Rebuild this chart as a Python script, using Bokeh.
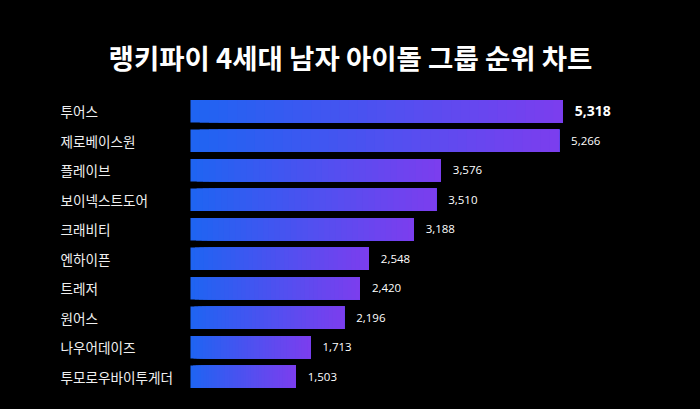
from bokeh.plotting import figure
from bokeh.models import ColumnDataSource, Range1d, FactorRange
from bokeh.core.properties import value
from bokeh.embed import file_html
from bokeh.resources import INLINE

title = "랭키파이 4세대 남자 아이돌 그룹 순위 차트"
groups = ["투어스", "제로베이스원", "플레이브", "보이넥스트도어", "크래비티",
          "엔하이픈", "트레저", "원어스", "나우어데이즈", "투모로우바이투게더"]
scores = [5318, 5266, 3576, 3510, 3188, 2548, 2420, 2196, 1713, 1503]

c0 = (0x1e, 0x64, 0xf2)
c1 = (0x7c, 0x3e, 0xee)
N = 40

p = figure(width=700, height=409, output_backend="svg", toolbar_location=None,
           x_range=Range1d(-2714, 7286), y_range=FactorRange(*reversed(groups), range_padding=0),
           min_border_left=0, min_border_right=0, min_border_top=96, min_border_bottom=18)
p.background_fill_color = "black"
p.border_fill_color = "black"
p.outline_line_color = None
p.xaxis.visible = False
p.yaxis.visible = False
p.xgrid.visible = False
p.ygrid.visible = False

# gradient bars: overlapping slices, each from its start to the bar end
ys, lefts, rights, cols = [], [], [], []
for g, v in zip(groups, scores):
    for i in range(N):
        t = (i + 0.5) / N
        col = "#%02x%02x%02x" % tuple(int(round(a + (b - a) * t)) for a, b in zip(c0, c1))
        ys.append(g)
        lefts.append(v * i / N)
        rights.append(v)
        cols.append(col)
bars = ColumnDataSource(dict(y=ys, left=lefts, right=rights, color=cols))
p.hbar(y="y", left="left", right="right", height=0.76, source=bars,
       fill_color="color", line_color=None)

src = ColumnDataSource(dict(
    y=groups, x=[0] * len(groups), v=scores,
    vt=[f"{s:,}" for s in scores],
    fs=["14px" if i == 0 else "11.5px" for i in range(len(groups))],
    st=["bold" if i == 0 else "normal" for i in range(len(groups))],
))
p.text(x="x", y="y", text="y", source=src, x_offset=-130, text_align="left",
       text_baseline="middle", text_color="#f0f0f0", text_font_size="13.6px",
       text_font=value("Noto Sans CJK KR"))
p.text(x="v", y="y", text="vt", source=src, x_offset=12, text_align="left",
       text_baseline="middle", text_color="#ffffff", text_font_size="fs",
       text_font_style="st", text_font=value("Open Sans"))

p.title.text = title
p.title.align = "center"
p.title.text_color = "white"
p.title.text_font = "Noto Sans CJK KR"
p.title.text_font_size = "27.5px"
p.title.text_font_style = "bold"
p.title.standoff = 40

html = file_html(p, INLINE)
html = html.replace("<body>", '<body style="background-color:#000000;">')
open("out.html", "w").write(html)
